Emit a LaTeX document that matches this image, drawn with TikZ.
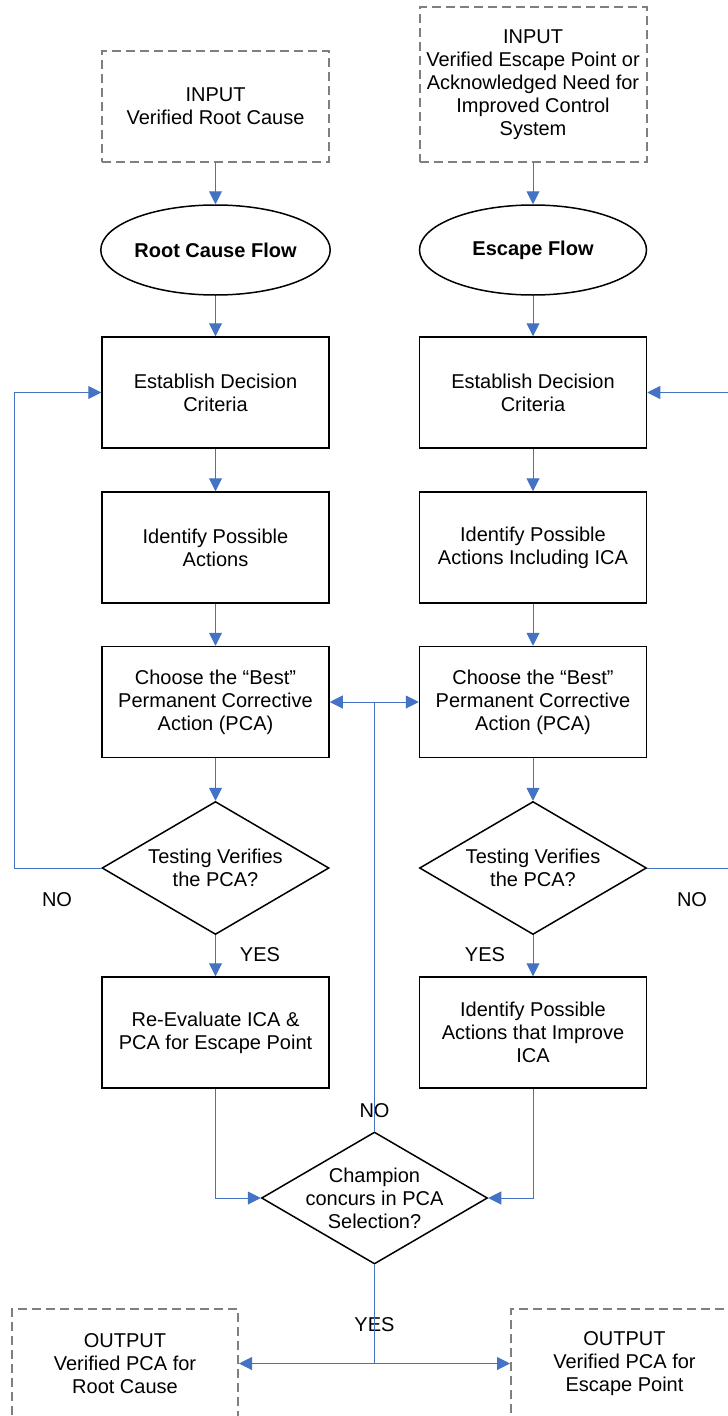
\documentclass[tikz,border=0pt]{standalone}
\usepackage{fontspec}
\setmainfont{Liberation Sans}
\usetikzlibrary{shapes.geometric,arrows.meta}
\definecolor{flowblue}{HTML}{4472C4}
\definecolor{dashgray}{HTML}{7F7F7F}

\begin{document}
\begin{tikzpicture}[x=1pt,y=-1pt,
  every node/.style={font=\fontsize{20}{23}\selectfont, align=center, inner sep=0pt},
  process/.style={draw=black, line width=1.5pt, rectangle, minimum width=227pt, minimum height=111pt},
  terminal/.style={draw=black, line width=1.5pt, ellipse, minimum width=227pt, minimum height=90pt, font=\fontsize{20}{23}\selectfont\bfseries},
  decision/.style={draw=black, line width=1.5pt, diamond, shape aspect=1.7, inner sep=-10pt, minimum width=227pt, minimum height=133pt},
  iobox/.style={draw=dashgray, line width=2pt, dash pattern=on 9pt off 5pt, rectangle, minimum width=227pt},
  flow/.style={draw=flowblue, line width=1pt},
  arrow/.style={flow, -{Triangle[length=13pt,width=13pt]}}
]
\useasboundingbox (0,0) rectangle (728,1416);
\clip (0,0) rectangle (728,1416);

% inputs
\node[iobox, minimum height=111pt] (in1) at (215.5,106.5) {INPUT\\Verified Root Cause};
\node[iobox, minimum height=155pt] (in2) at (533,84.5) {INPUT\\Verified Escape Point or\\Acknowledged Need for\\Improved Control\\System};

% flow heads
\node[terminal] (el1) at (215.5,250) {Root Cause Flow};
\node[terminal] (el2) at (533,250) {Escape Flow};

% root cause column
\node[process] (est1) at (215.5,392.5) {Establish Decision\\Criteria};
\node[process] (id1) at (215.5,547.5) {Identify Possible\\Actions};
\node[process] (ch1) at (215.5,702) {Choose the “Best”\\Permanent Corrective\\Action (PCA)};
\node[decision] (t1) at (215.5,868) {Testing Verifies\\the PCA?};
\node[process] (re1) at (215.5,1032.5) {Re-Evaluate ICA \&\\PCA for Escape Point};

% escape column
\node[process] (est2) at (533,392.5) {Establish Decision\\Criteria};
\node[process] (id2) at (533,547.5) {Identify Possible\\Actions Including ICA};
\node[process] (ch2) at (533,702) {Choose the “Best”\\Permanent Corrective\\Action (PCA)};
\node[decision] (t2) at (533,868) {Testing Verifies\\the PCA?};
\node[process] (re2) at (533,1032.5) {Identify Possible\\Actions that Improve\\ICA};

% joint decision
\node[decision, minimum width=226pt, minimum height=132pt] (champ) at (374.5,1198) {Champion\\concurs in PCA\\Selection?};

% outputs
\node[iobox, minimum width=226pt, minimum height=109pt] (out1) at (125,1363.5) {OUTPUT\\Verified PCA for\\Root Cause};
\node[iobox, minimum height=109pt] (out2) at (624.5,1363.5) {OUTPUT\\Verified PCA for\\Escape Point};

% branch labels
\node (no1) at (57,900) {NO};
\node (no2) at (692,900) {NO};
\node (yes1) at (260,955) {YES};
\node (yes2) at (485,955) {YES};
\node (no3) at (374.5,1111) {NO};
\node (yes3) at (374.5,1325) {YES};

% main flow
\draw[arrow] (in1) -- (el1);
\draw[arrow] (el1) -- (est1);
\draw[arrow] (est1) -- (id1);
\draw[arrow] (id1) -- (ch1);
\draw[arrow] (ch1) -- (t1);
\draw[arrow] (t1) -- (re1);
\draw[arrow] (in2) -- (el2);
\draw[arrow] (el2) -- (est2);
\draw[arrow] (est2) -- (id2);
\draw[arrow] (id2) -- (ch2);
\draw[arrow] (ch2) -- (t2);
\draw[arrow] (t2) -- (re2);

% loops back on NO
\coordinate (fbL) at (14,0);
\coordinate (fbR) at (740,0);
\draw[arrow] (t1.west) -- (t1.west -| fbL) |- (est1.west);
\draw[arrow] (t2.east) -- (t2.east -| fbR) |- (est2.east);

% into the joint decision
\draw[arrow] (re1.south) |- (champ.west);
\draw[arrow] (re2.south) |- (champ.east);

% NO: back to both choices
\draw[flow] (champ.north) -- (champ.north |- ch1.east) coordinate (jn);
\draw[arrow] (jn) -- (ch1.east);
\draw[arrow] (jn) -- (ch2.west);

% YES: to both outputs
\draw[flow] (champ.south) -- (champ.south |- out1.east) coordinate (jy);
\draw[arrow] (jy) -- (out1.east);
\draw[arrow] (jy) -- (out2.west);
\end{tikzpicture}
\end{document}
